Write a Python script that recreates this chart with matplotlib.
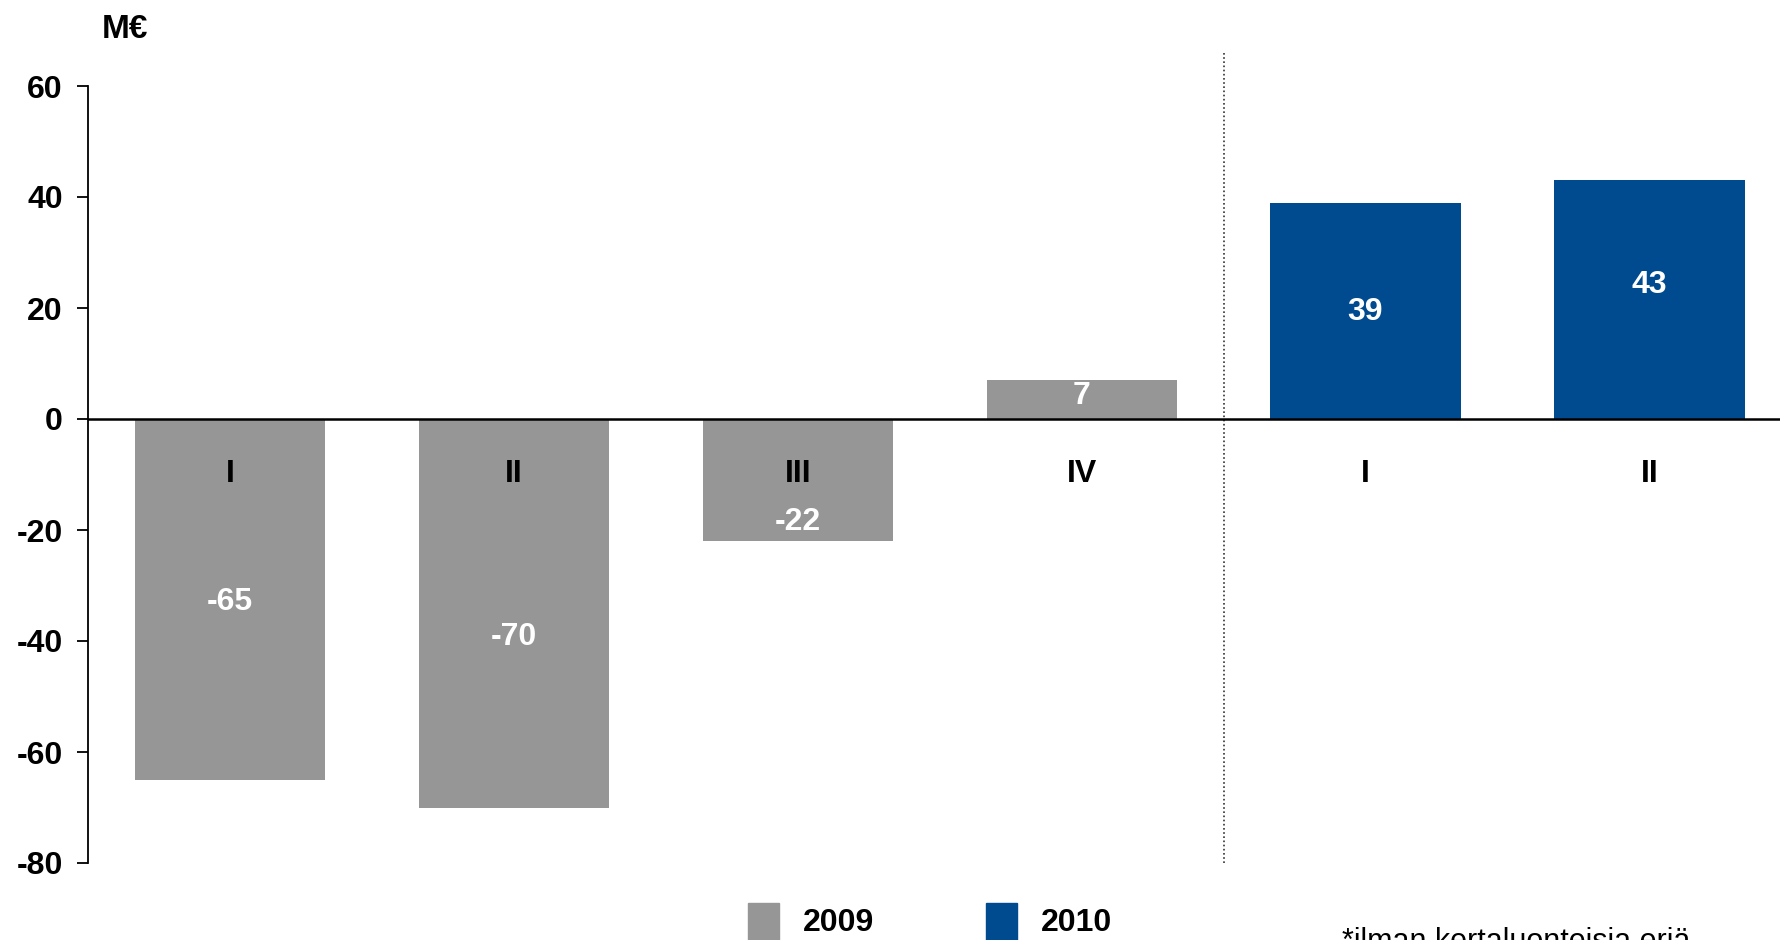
import matplotlib
matplotlib.use("Agg")
import matplotlib.pyplot as plt
from matplotlib.patches import Rectangle

plt.rcParams['font.family'] = ['Liberation Sans', 'DejaVu Sans']
plt.rcParams['axes.unicode_minus'] = False

quarters = ["I", "II", "III", "IV", "I", "II"]
values = [-65, -70, -22, 7, 39, 43]
years = [2009, 2009, 2009, 2009, 2010, 2010]
# where the value labels sit (data units)
label_y = [-33, -39.3, -18.6, 4.2, 19.3, 24.2]

colors = {2009: "#969696", 2010: "#004B8F"}

fig = plt.figure(figsize=(17.8, 9.4), dpi=100)
ax = fig.add_axes([88 / 1780, 1 - 863 / 940, 1 - 88 / 1780, 777 / 940])

x = list(range(len(values)))
ax.bar(x, values, width=0.67, color=[colors[y] for y in years], zorder=2)

for xi, v, ly in zip(x, values, label_y):
    ax.text(xi, ly, f"{v}", ha="center", va="center", color="white",
            fontsize=23, fontweight="bold", zorder=3)
for xi, q in zip(x, quarters):
    ax.text(xi, -10, q, ha="center", va="center", color="black",
            fontsize=23, fontweight="bold", zorder=3)

ax.axhline(0, color="black", lw=1.8, zorder=4)
ax.plot([3.5, 3.5], [-80, 66.3], color="#333333", lw=1.2, ls=(0, (1, 1.5)),
        clip_on=False, zorder=1)

ax.set_xlim(-0.5, 5.46)
ax.set_ylim(-80, 60)
ax.set_yticks(range(-80, 61, 20))
ax.set_xticks([])
for s in ["top", "right", "bottom"]:
    ax.spines[s].set_visible(False)
ax.spines["left"].set_linewidth(1.3)
ax.tick_params(axis="y", length=8, width=1.3, labelsize=23, pad=10)
for lab in ax.get_yticklabels():
    lab.set_fontweight("bold")

fig.text(102 / 1780, 1 - 30 / 940, "M€", fontsize=24, fontweight="bold",
         ha="left", va="center")

# legend
for x0, yr in [(748, 2009), (986, 2010)]:
    fig.patches.append(Rectangle((x0 / 1780, 0), 31 / 1780, 37 / 940,
                                 transform=fig.transFigure, color=colors[yr]))
    fig.text((x0 + 55) / 1780, 1 - 923 / 940, str(yr), fontsize=23,
             fontweight="bold", ha="left", va="center")

fig.text(1342 / 1780, 1 - 942 / 940, "*ilman kertaluonteisia eriä",
         fontsize=22, ha="left", va="center")

fig.savefig("out.png", dpi=100)
